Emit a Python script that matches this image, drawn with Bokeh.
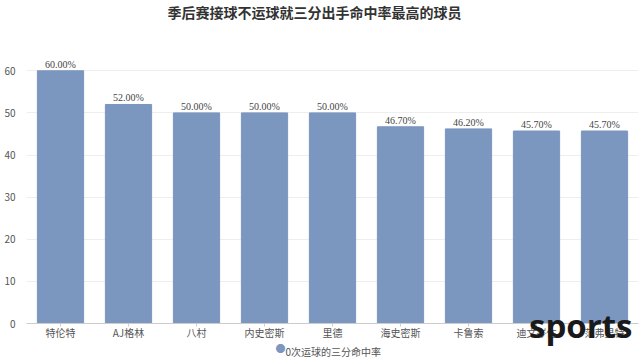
from bokeh.plotting import figure
from bokeh.models import ColumnDataSource, Range1d, LabelSet, Title
from bokeh.embed import file_html
from bokeh.resources import INLINE

players = ["特伦特", "AJ格林", "八村", "内史密斯", "里德", "海史密斯", "卡鲁索", "迪文岑佐", "范弗里特"]
pct = [60.0, 52.0, 50.0, 50.0, 50.0, 46.7, 46.2, 45.7, 45.7]
pct_labels = ["60.00%", "52.00%", "50.00%", "50.00%", "50.00%", "46.70%", "46.20%", "45.70%", "45.70%"]
y_ticks = [0, 10, 20, 30, 40, 50, 60]
series_name = "0次运球的三分命中率"
title_text = "季后赛接球不运球就三分出手命中率最高的球员"
watermark = "sports"

FONT = "Noto Sans CJK SC"
BAR = "#7b96bf"

src = ColumnDataSource(dict(x=players, y=pct, lab=pct_labels))

p = figure(x_range=players, y_range=Range1d(0, 66), width=640, height=363,
           output_backend="svg", toolbar_location=None,
           min_border_left=26, min_border_right=2, min_border_top=0, min_border_bottom=0)
p.outline_line_color = None
p.background_fill_color = "white"

# spacer (closest to frame), then the visible title above it
p.add_layout(Title(text=" ", text_font_size="13px", standoff=6, text_color="white"), "above")
p.add_layout(Title(text=title_text, align="left", vertical_align="middle", text_font=FONT,
                   text_font_size="14px", text_font_style="bold", text_color="#333333",
                   offset=141, standoff=0), "above")

p.vbar(x="x", top="y", width=0.68, source=src, fill_color=BAR, line_color=BAR)
p.add_layout(LabelSet(x="x", y="y", text="lab", source=src, text_align="center",
                      text_baseline="bottom", y_offset=1, text_font=FONT,
                      text_font_size="10px", text_color="#444444"))

p.yaxis.ticker = y_ticks
p.yaxis.axis_line_color = None
p.yaxis.major_tick_line_color = None
p.yaxis.minor_tick_line_color = None
p.yaxis.major_label_text_font = FONT
p.yaxis.major_label_text_font_size = "10px"
p.yaxis.major_label_text_color = "#555555"
p.yaxis.major_label_standoff = 5

p.xaxis.axis_line_color = "#cccccc"
p.xaxis.major_tick_line_color = "#cccccc"
p.xaxis.major_tick_in = 0
p.xaxis.major_tick_out = 3
p.xaxis.major_label_text_font = FONT
p.xaxis.major_label_text_font_size = "10px"
p.xaxis.major_label_text_color = "#555555"
p.xaxis.major_label_standoff = -2

p.xgrid.grid_line_color = None
p.ygrid.grid_line_color = "#eeeeee"
p.x_range.range_padding = 0.0

# watermark: zero-height panel right under the frame
wm = Title(text=watermark, align="right", vertical_align="bottom", text_font="Open Sans",
           text_font_size="33px", text_font_style="bold", text_color="#1a1a1a",
           offset=6, standoff=-48)
gap = Title(text=" ", text_font=FONT, text_font_size="10px", standoff=-13)
legend_dot = Title(text="●", align="left", vertical_align="middle", text_font=FONT,
                   text_font_size="10px", text_font_style="normal", text_color=BAR,
                   offset=249, standoff=-14)
legend_text = Title(text=series_name, align="left", vertical_align="middle", text_font=FONT,
                    text_font_size="10px", text_font_style="normal", text_color="#555555",
                    offset=259, standoff=-14)
tail = Title(text=" ", text_font=FONT, text_font_size="10px", standoff=-6)
p.below = [wm] + list(p.below) + [gap, legend_dot, legend_text, tail]

open("out.html", "w").write(file_html(p, INLINE))
